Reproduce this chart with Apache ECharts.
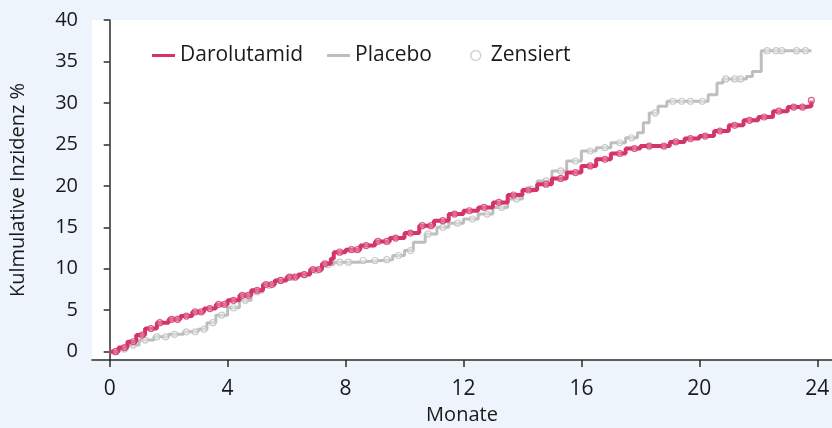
<!DOCTYPE html>
<html>
<head>
<meta charset="utf-8">
<script src="https://cdn.jsdelivr.net/npm/echarts@6/dist/echarts.min.js"></script>
<style>
	html, body { margin: 0; padding: 0; background: #edf4fb; }
	#chart { width: 832px; height: 428px; }
</style>
</head>
<body>
<div id="chart"></div>
<script>
// step curves (Monate, kumulative Inzidenz %)
var daroT = [0, 0.3, 0.6, 0.9, 1.2, 1.6, 2.0, 2.4, 2.8, 3.2, 3.6, 4.0, 4.4, 4.8, 5.2, 5.6, 6.0, 6.4, 6.8, 7.2, 7.5, 7.6, 8.0, 8.5, 9.0, 9.5, 10.0, 10.5, 11.0, 11.5, 12.0, 12.5, 13.0, 13.5, 14.0, 14.5, 15.0, 15.5, 16.0, 16.5, 17.0, 17.5, 18.0, 18.6, 19.0, 19.5, 20.0, 20.5, 21.0, 21.5, 22.0, 22.5, 23.0, 23.6, 23.8];
var daroY = [0, 0.5, 1.2, 2.0, 2.8, 3.5, 3.9, 4.3, 4.8, 5.2, 5.7, 6.2, 6.8, 7.4, 8.1, 8.6, 9.0, 9.3, 9.9, 10.6, 11.2, 12.0, 12.3, 12.8, 13.3, 13.7, 14.3, 15.2, 15.8, 16.6, 17.0, 17.4, 18.0, 18.9, 19.5, 20.2, 20.9, 21.6, 22.4, 23.2, 23.9, 24.5, 24.8, 24.8, 25.3, 25.7, 26.0, 26.6, 27.3, 27.9, 28.3, 29.0, 29.5, 29.6, 30.3];
var placT = [0, 0.3, 0.6, 1.0, 1.5, 2.0, 2.5, 3.0, 3.3, 3.6, 4.0, 4.4, 4.8, 5.2, 5.6, 6.0, 6.4, 6.8, 7.2, 7.6, 8.4, 9.2, 9.6, 10.0, 10.3, 10.7, 11.1, 11.5, 12.0, 12.5, 13.0, 13.5, 14.0, 14.5, 15.0, 15.5, 16.0, 16.5, 17.0, 17.5, 17.9, 18.1, 18.3, 18.6, 18.9, 19.9, 20.3, 20.6, 20.8, 21.6, 21.8, 22.1, 23.8];
var placY = [0, 0.3, 0.8, 1.4, 1.8, 2.1, 2.4, 2.7, 3.5, 4.4, 5.3, 6.2, 7.2, 8.0, 8.6, 9.0, 9.3, 9.8, 10.5, 10.8, 11.0, 11.1, 11.6, 12.2, 13.2, 14.2, 15.0, 15.5, 16.0, 16.6, 17.4, 18.4, 19.6, 20.6, 21.8, 23.0, 24.2, 24.6, 25.2, 25.8, 26.4, 27.6, 28.8, 29.6, 30.2, 30.2, 31.0, 32.4, 32.9, 33.2, 33.8, 36.3, 36.3];

// censor times
var daroCens = [0.2, 0.5, 0.8, 1.1, 1.4, 1.7, 2.1, 2.3, 2.6, 2.9, 3.1, 3.4, 3.7, 3.9, 4.2, 4.5, 4.7, 5.0, 5.3, 5.5, 5.8, 6.1, 6.3, 6.6, 6.9, 7.1, 7.3, 7.8, 8.2, 8.4, 8.7, 9.1, 9.4, 9.7, 10.2, 10.6, 10.9, 11.3, 11.7, 12.2, 12.7, 13.2, 13.7, 14.2, 14.8, 15.3, 15.8, 16.3, 16.8, 17.3, 17.8, 18.3, 18.8, 19.2, 19.7, 20.2, 20.7, 21.2, 21.7, 22.2, 22.7, 23.2, 23.5, 23.8];
var placCens = [0.2, 0.5, 0.8, 1.2, 1.6, 1.9, 2.2, 2.6, 2.9, 3.2, 3.5, 3.8, 4.2, 4.6, 5.0, 5.4, 5.8, 6.2, 6.6, 7.0, 7.4, 7.8, 8.1, 8.6, 9.0, 9.4, 9.8, 10.2, 10.8, 11.3, 11.8, 12.3, 12.8, 13.3, 13.8, 14.3, 14.8, 15.3, 15.8, 16.3, 16.8, 17.3, 17.7, 18.5, 19.1, 19.4, 19.7, 20.1, 20.9, 21.2, 21.4, 22.3, 22.6, 22.8, 23.3, 23.6];

var xTicks = [0, 4, 8, 12, 16, 20, 24];
var yTicks = [0, 5, 10, 15, 20, 25, 30, 35, 40];

var pink = "#d4346a";
var grey = "#bdbfbf";
var font = "Open Sans";

function pairs(t, y) {
	return t.map(function (v, i) { return [v, y[i]]; });
}
// value of the step curve at a censor time
function onCurve(cens, t, y) {
	return cens.map(function (c) {
		var v = 0;
		for (var i = 0; i < t.length; i++) {
			if (t[i] <= c) v = y[i];
		}
		return [c, v];
	});
}

var myChart = echarts.init(document.getElementById("chart"));
var option = {
	backgroundColor: "#edf4fb",
	animation: false,
	textStyle: { fontFamily: font },
	grid: {
		left: 92,
		right: 0,
		top: 20,
		bottom: 68,
		containLabel: false,
		outerBoundsMode: "none",
		show: true,
		backgroundColor: "#ffffff",
		borderWidth: 0,
	},
	legend: [
		{
			left: 147,
			top: 40,
			icon: "rect",
			itemWidth: 23,
			itemHeight: 3,
			itemGap: 24,
			textStyle: { fontSize: 21, color: "#1a1a1a", fontFamily: font },
			data: ["Darolutamid", "Placebo"],
		},
		{
			left: 465,
			top: 40,
			icon: "circle",
			itemWidth: 10,
			itemHeight: 10,
			textStyle: { fontSize: 21, color: "#1a1a1a", fontFamily: font, padding: [0, 0, 0, 5] },
			data: [
				{
					name: "Zensiert",
					itemStyle: { color: "#ffffff", borderColor: "#c8c8c8", borderWidth: 1.5 },
				},
			],
		},
	],
	xAxis: {
		type: "value",
		min: -0.6,
		max: 24.5,
		name: "Monate",
		nameLocation: "middle",
		nameGap: 42,
		nameTextStyle: { fontSize: 20, color: "#1a1a1a" },
		axisLine: { onZero: false, lineStyle: { color: "#2b2b2b", width: 1.5 } },
		axisTick: { customValues: xTicks, length: 7, lineStyle: { color: "#2b2b2b", width: 1.5 } },
		axisLabel: { customValues: xTicks, margin: 19, fontSize: 21, color: "#1a1a1a" },
		splitLine: { show: false },
	},
	yAxis: {
		type: "value",
		min: -1,
		max: 40,
		name: "Kulmulative Inzidenz %",
		nameLocation: "middle",
		nameGap: 64,
		nameTextStyle: { fontSize: 20, color: "#1a1a1a" },
		axisLine: { show: true, lineStyle: { color: "#2b2b2b", width: 1.5 } },
		axisTick: { show: true, customValues: yTicks, length: 6, lineStyle: { color: "#2b2b2b", width: 1.5 } },
		axisLabel: { customValues: yTicks, margin: 14, fontSize: 20, color: "#1a1a1a" },
		splitLine: { show: false },
	},
	series: [
		{
			name: "Placebo",
			type: "line",
			step: "end",
			data: pairs(placT, placY),
			showSymbol: false,
			lineStyle: { color: grey, width: 3 },
			itemStyle: { color: grey },
			z: 2,
		},
		{
			name: "Zensiert",
			type: "scatter",
			data: onCurve(placCens, placT, placY),
			symbol: "circle",
			symbolSize: 6,
			itemStyle: { color: "rgba(255,255,255,0.5)", borderColor: grey, borderWidth: 1.2 },
			z: 3,
		},
		{
			name: "Darolutamid",
			type: "line",
			step: "end",
			data: pairs(daroT, daroY),
			showSymbol: false,
			lineStyle: { color: pink, width: 4 },
			itemStyle: { color: pink },
			z: 4,
		},
		{
			name: "Zensiert",
			type: "scatter",
			data: onCurve(daroCens, daroT, daroY),
			symbol: "circle",
			symbolSize: 6,
			itemStyle: { color: "rgba(255,255,255,0.35)", borderColor: pink, borderWidth: 1.2 },
			z: 5,
		},
	],
};

option && myChart.setOption(option);
</script>
</body>
</html>
